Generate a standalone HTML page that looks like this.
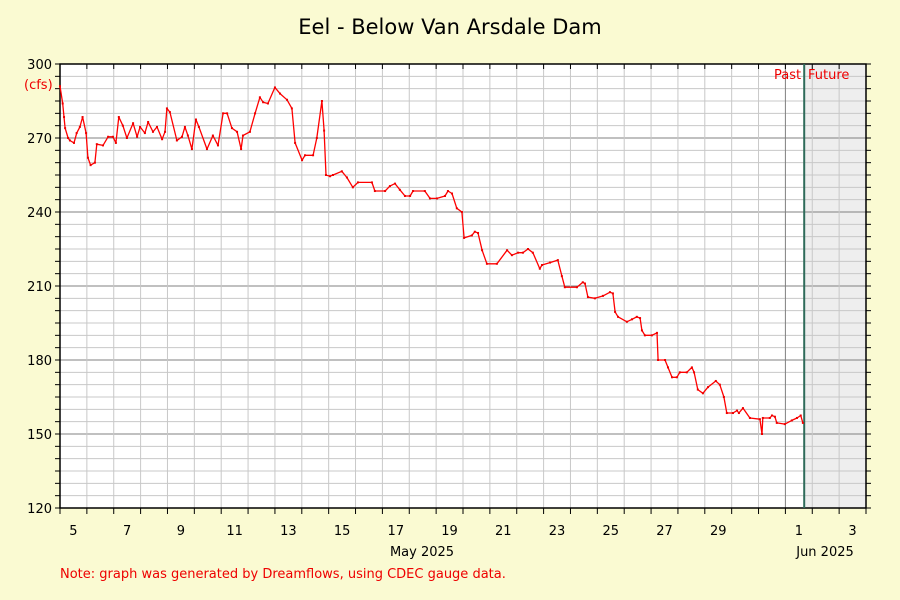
<!DOCTYPE html>
<html><head><meta charset="utf-8"><style>
body{margin:0;background:#fafad2;}
svg{display:block;font-family:"DejaVu Sans","Liberation Sans",sans-serif;}
</style></head><body>
<svg id="chart" width="900" height="600">
<rect x="0" y="0" width="900" height="600" fill="#fafad2"/>
<text x="450" y="34" text-anchor="middle" font-size="21" fill="#000">Eel - Below Van Arsdale Dam</text>
<g id="grid"></g><g id="axes"></g><g id="series"></g>
<text x="24" y="89" font-size="13" fill="#e00">(cfs)</text>
<text x="774" y="79" font-size="13" fill="#e00">Past</text>
<text x="808" y="79" font-size="13" fill="#e00">Future</text>
<text x="422" y="556" text-anchor="middle" font-size="13" fill="#000">May 2025</text>
<text x="825" y="556" text-anchor="middle" font-size="13" fill="#000">Jun 2025</text>
<text x="60" y="578" font-size="13" fill="#e00">Note: graph was generated by Dreamflows, using CDEC gauge data.</text>
</svg>
<script>
const yTicks=[120,150,180,210,240,270,300];
const dayLabels=["5","7","9","11","13","15","17","19","21","23","25","27","29","1","3"];
const dayLabelOffsets=[0,2,4,6,8,10,12,14,16,18,20,22,24,27,29];
const nowDay=27.7;
const times=[0,0.10,0.15,0.19,0.30,0.37,0.52,0.62,0.74,0.84,0.97,1.04,1.14,1.30,1.37,1.60,1.79,1.97,2.08,2.19,2.34,2.49,2.72,2.87,2.98,3.16,3.28,3.46,3.61,3.80,3.91,3.98,4.09,4.35,4.54,4.65,4.76,4.91,5.06,5.17,5.47,5.69,5.88,6.07,6.22,6.40,6.59,6.74,6.81,7.07,7.26,7.44,7.56,7.74,8.00,8.19,8.45,8.63,8.75,9.01,9.12,9.42,9.56,9.75,9.83,9.90,10.05,10.16,10.49,10.68,10.90,11.09,11.61,11.72,12.10,12.28,12.47,12.65,12.84,13.03,13.14,13.58,13.77,14.03,14.33,14.44,14.59,14.77,14.96,15.04,15.33,15.44,15.56,15.71,15.89,16.26,16.64,16.82,17.05,17.23,17.42,17.60,17.86,17.94,18.24,18.53,18.68,18.79,19.24,19.46,19.54,19.65,19.91,20.21,20.47,20.58,20.66,20.77,21.10,21.29,21.47,21.59,21.66,21.77,22.03,22.22,22.26,22.52,22.63,22.78,22.96,23.07,23.33,23.52,23.60,23.74,23.93,24.12,24.41,24.56,24.71,24.82,25.05,25.20,25.27,25.42,25.68,26.05,26.13,26.16,26.42,26.50,26.61,26.68,26.98,27.24,27.43,27.57,27.65];
const flows=[291,284,278.5,274,270,269,268,272,274.5,278.5,272,262,259,260,267.5,267,270.5,270.5,268,278.5,275,270,276,270.5,274.5,272,276.5,272.5,274.5,269.5,272.5,282,280.5,269,270.5,274.5,271,265.5,277.5,274.5,265.5,271,267,280,280,274,272.5,265.5,271,272.5,280,286.5,284.5,284,290.5,288,285.5,282,268,261,263,263,270,285,273,255,254.5,255,256.5,254,250,252,252,248.5,248.5,250.5,251.5,249,246.5,246.5,248.5,248.5,245.5,245.5,246.5,248.5,247.5,241.5,240,229.5,230.5,232,231.5,224.5,219,219,224.5,222.5,223.5,223.5,225,223.5,217,218.5,219.5,220.5,214,209.5,209.5,211.5,211,205.5,205,206,207.5,207,199.5,197.5,195.5,196.5,197.5,197,192,190,190,191,180,180,177,173,173,175,175,177,175,168,166.5,169,171.5,170,165,158.5,158.5,159.5,158.5,160.5,156.5,156,150,156.5,156.5,157.5,157,154.5,154,155.5,156.5,157.5,154.5];
const X0=60,X1=866,Y0=64,Y1=508,VMIN=120,VMAX=300,DAYPX=(X1-X0)/30;
const xs=d=>X0+d*DAYPX;
const ys=v=>Y1-(v-VMIN)/(VMAX-VMIN)*(Y1-Y0);
const NS="http://www.w3.org/2000/svg";
function mk(tag,attrs,parent){const e=document.createElementNS(NS,tag);for(const k in attrs)e.setAttribute(k,attrs[k]);parent.appendChild(e);return e;}
const grid=document.getElementById('grid'),axes=document.getElementById('axes'),series=document.getElementById('series');
let r=mk('rect',{x:X0,y:Y0,width:X1-X0,height:Y1-Y0,fill:'#fff'},grid);


r=mk('rect',{x:xs(nowDay),y:Y0,width:X1-xs(nowDay),height:Y1-Y0,fill:'#eee'},grid);


for(let v=VMIN;v<=VMAX;v+=5){
  const major=(v%30===0);
  const l=mk('line',{x1:X0,x2:X1,y1:ys(v),y2:ys(v),stroke:major?'#808080':'#c8c8c8','stroke-width':1},grid);
  
  
  const t1=mk('line',{x1:X0-5,x2:X0,y1:ys(v),y2:ys(v),stroke:'#000'},axes);
  
  
  const t2=mk('line',{x1:X1,x2:X1+5,y1:ys(v),y2:ys(v),stroke:'#000'},axes);
  
  
}
for(let d=1;d<30;d++){
  const major=(d===27);
  const l=mk('line',{x1:xs(d),x2:xs(d),y1:Y0,y2:Y1,stroke:major?'#808080':'#c8c8c8'},grid);
  
  
}
for(let d=0;d<=30;d++){
  const t=mk('line',{x1:xs(d),x2:xs(d),y1:Y1,y2:Y1+6,stroke:'#000'},axes);
  
  
  const t2=mk('line',{x1:xs(d),x2:xs(d),y1:Y0,y2:Y0+5,stroke:'#000'},axes);
  
  
}
r=mk('rect',{x:X0,y:Y0,width:X1-X0,height:Y1-Y0,fill:'none',stroke:'#000','stroke-width':1.5},axes);


let nl=mk('line',{x1:xs(nowDay),x2:xs(nowDay),y1:Y0,y2:Y1,stroke:'#2f6b5a','stroke-width':2},axes);


yTicks.forEach(v=>{
  const t=mk('text',{x:52,y:ys(v)+5,'text-anchor':'end','font-size':13,fill:'#000'},axes);
  t.textContent=v;
  
  
});
dayLabels.forEach((s,i)=>{
  const t=mk('text',{x:xs(dayLabelOffsets[i]+0.5),y:Y1+27,'text-anchor':'middle','font-size':13,fill:'#000'},axes);
  t.textContent=s;
  
  
});
const pts=times.map((t,i)=>xs(t).toFixed(1)+','+ys(flows[i]).toFixed(1)).join(' ');
const pl=mk('polyline',{points:pts,fill:'none',stroke:'#f00','stroke-width':1.3,'stroke-linejoin':'round'},series);


times.forEach((t,i)=>{
  const p=mk('rect',{x:xs(t)-1,y:ys(flows[i])-1,width:2,height:2,fill:'#e00'},series);
  
  
});
</script>
</body></html>
